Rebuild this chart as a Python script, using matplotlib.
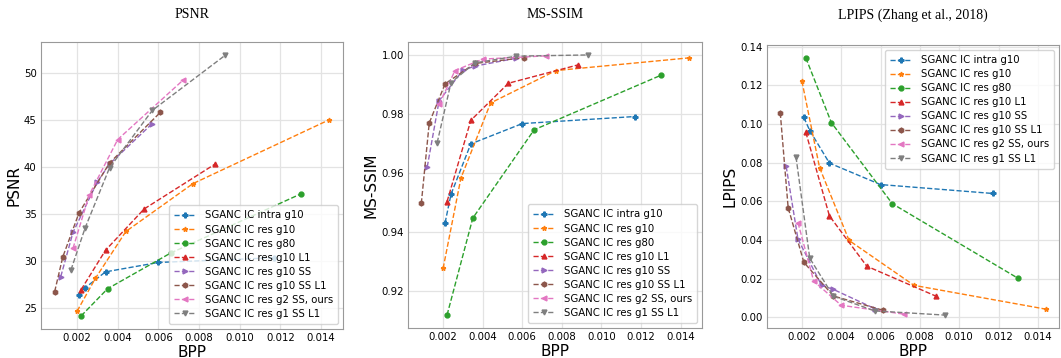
import matplotlib
matplotlib.use('Agg')
import matplotlib.pyplot as plt

# ---------------- data ----------------
labels = ['SGANC IC intra g10', 'SGANC IC res g10', 'SGANC IC res g80',
          'SGANC IC res g10 L1', 'SGANC IC res g10 SS', 'SGANC IC res g10 SS L1',
          'SGANC IC res g2 SS, ours', 'SGANC IC res g1 SS L1']
markers = ['P', '*', 'o', '^', '>', 'h', '<', 'v']

bpp_intra_g10 = [0.0021, 0.0024, 0.0034, 0.0060, 0.0117]
bpp_res_g10 = [0.0020, 0.0029, 0.0044, 0.0077, 0.0144]
bpp_res_g80 = [0.0022, 0.0035, 0.0066, 0.0130]
bpp_res_g10_l1 = [0.0022, 0.0034, 0.0053, 0.0088]
bpp_res_g10_ss = [0.0012, 0.0018, 0.0030, 0.0036, 0.0057]
bpp_res_g10_ss_l1 = [0.0009, 0.0013, 0.0021, 0.0036, 0.0061]
bpp_res_g2_ss = [0.0018, 0.0026, 0.0040, 0.0072]
bpp_res_g1_ss_l1 = [0.0017, 0.0024, 0.0036, 0.0057, 0.0093]

psnr_intra_g10 = [26.3, 27.1, 28.8, 29.8, 30.3]
psnr_res_g10 = [24.6, 28.1, 33.1, 38.2, 45.0]
psnr_res_g80 = [24.1, 27.0, 30.8, 37.1]
psnr_res_g10_l1 = [26.9, 31.1, 35.5, 40.3]
psnr_res_g10_ss = [28.3, 33.0, 38.4, 40.3, 44.6]
psnr_res_g10_ss_l1 = [26.7, 30.4, 35.1, 40.4, 45.8]
psnr_res_g2_ss = [31.3, 37.0, 42.9, 49.2]
psnr_res_g1_ss_l1 = [29.0, 33.5, 39.9, 46.0, 51.9]

msssim_intra_g10 = [0.943, 0.9527, 0.9698, 0.9767, 0.9791]
msssim_res_g10 = [0.9275, 0.9582, 0.9837, 0.9947, 0.9990]
msssim_res_g80 = [0.9117, 0.9446, 0.9746, 0.9931]
msssim_res_g10_l1 = [0.9502, 0.9778, 0.9904, 0.9966]
msssim_res_g10_ss = [0.9620, 0.9845, 0.9948, 0.9962, 0.9989]
msssim_res_g10_ss_l1 = [0.9496, 0.9769, 0.9902, 0.9971, 0.9991]
msssim_res_g2_ss = [0.9832, 0.9947, 0.9986, 0.9997]
msssim_res_g1_ss_l1 = [0.9702, 0.9906, 0.9973, 0.9996, 1.0000]

lpips_intra_g10 = [0.1034, 0.0966, 0.0798, 0.0687, 0.0641]
lpips_res_g10 = [0.1222, 0.0774, 0.0398, 0.0166, 0.0043]
lpips_res_g80 = [0.1342, 0.1007, 0.0588, 0.0202]
lpips_res_g10_l1 = [0.0957, 0.0525, 0.0265, 0.0111]
lpips_res_g10_ss = [0.0781, 0.0405, 0.0166, 0.0145, 0.0046]
lpips_res_g10_ss_l1 = [0.1058, 0.0568, 0.0285, 0.0111, 0.0038]
lpips_res_g2_ss = [0.0490, 0.0188, 0.0063, 0.0017]
lpips_res_g1_ss_l1 = [0.0830, 0.0306, 0.0110, 0.0034, 0.0012]

bpp_all = [bpp_intra_g10, bpp_res_g10, bpp_res_g80, bpp_res_g10_l1,
           bpp_res_g10_ss, bpp_res_g10_ss_l1, bpp_res_g2_ss, bpp_res_g1_ss_l1]
psnr_all = [psnr_intra_g10, psnr_res_g10, psnr_res_g80, psnr_res_g10_l1,
            psnr_res_g10_ss, psnr_res_g10_ss_l1, psnr_res_g2_ss, psnr_res_g1_ss_l1]
msssim_all = [msssim_intra_g10, msssim_res_g10, msssim_res_g80, msssim_res_g10_l1,
              msssim_res_g10_ss, msssim_res_g10_ss_l1, msssim_res_g2_ss, msssim_res_g1_ss_l1]
lpips_all = [lpips_intra_g10, lpips_res_g10, lpips_res_g80, lpips_res_g10_l1,
             lpips_res_g10_ss, lpips_res_g10_ss_l1, lpips_res_g2_ss, lpips_res_g1_ss_l1]

# ---------------- styling ----------------
plt.rcParams['font.family'] = 'DejaVu Sans'
plt.rcParams['axes.edgecolor'] = '#999999'
plt.rcParams['grid.color'] = '#e3e3e3'

fig = plt.figure(figsize=(10.61, 3.58), dpi=100)

panels = [
    ('PSNR', 'PSNR', psnr_all, [0.0386, 0.081, 0.2846, 0.8017], 'lower right'),
    ('MS-SSIM', 'MS-SSIM', msssim_all, [0.3845, 0.0838, 0.2771, 0.799], 'lower right'),
    ('LPIPS (Zhang et al., 2018)', 'LPIPS', lpips_all, [0.7229, 0.0838, 0.2752, 0.7905], 'upper right'),
]

for title, ylabel, values, pos, loc in panels:
    ax = fig.add_axes(pos)
    for i in range(len(labels)):
        ax.plot(bpp_all[i], values[i], linestyle='--', marker=markers[i],
                markersize=3.5, linewidth=1, color='C%d' % i, label=labels[i])
    ax.grid(True, linewidth=0.9)
    ax.set_axisbelow(True)
    ax.tick_params(length=0, labelsize=7.3, pad=3)
    ax.set_xticks([0.002, 0.004, 0.006, 0.008, 0.010, 0.012, 0.014])
    ax.set_xticklabels(['0.002', '0.004', '0.006', '0.008', '0.010', '0.012', '0.014'])
    ax.set_xlabel('BPP', fontsize=11, labelpad=1)
    ax.set_ylabel(ylabel, fontsize=11, labelpad=2)
    ax.legend(loc=loc, fontsize=7.3, handlelength=2.2, borderpad=0.5,
              labelspacing=0.4, framealpha=0.8)
    x0 = pos[0] + pos[2] / 2
    fig.text(x0, 1 - 15 / 358, title, ha='center', va='center',
             fontsize=10, family='Liberation Serif')

fig.savefig('out.png', dpi=100)
